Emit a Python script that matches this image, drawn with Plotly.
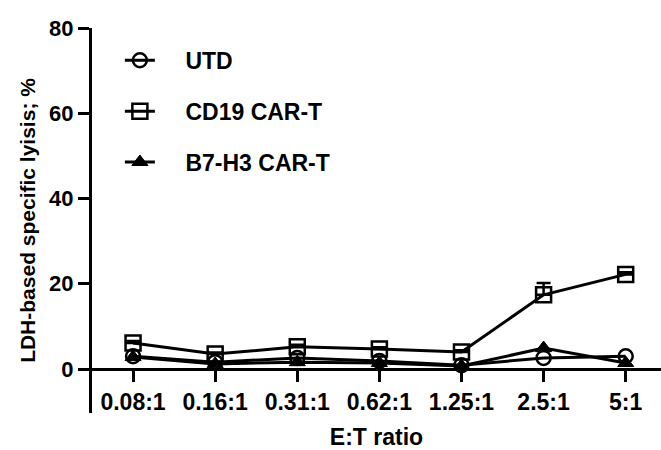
import plotly.graph_objects as go

categories = ["0.08:1", "0.16:1", "0.31:1", "0.62:1", "1.25:1", "2.5:1", "5:1"]
utd = [3.0, 1.6, 2.6, 1.9, 0.9, 2.6, 3.0]
cd19 = [6.1, 3.5, 5.2, 4.7, 4.0, 17.4, 22.2]
cd19_err = [0.5, 0.4, 0.5, 0.4, 0.4, 2.8, 0.5]
b7h3 = [2.8, 1.2, 1.6, 1.4, 0.7, 4.9, 1.4]
y_ticks = [0, 20, 40, 60, 80]

FONT = "Liberation Sans, Arial, sans-serif"
pad = "\u00a0" * 4

fig = go.Figure()
common = dict(mode="lines+markers", line=dict(color="black", width=3))
fig.add_trace(go.Scatter(x=categories, y=utd, name=pad + "UTD", legendgroup="a",
                         marker=dict(symbol="circle-open", size=14, color="black",
                                     line=dict(width=2.5, color="black")), **common))
fig.add_trace(go.Scatter(x=categories, y=cd19, name=pad + "CD19 CAR-T", legendgroup="b",
                         error_y=dict(type="data", array=cd19_err, arrayminus=[0]*len(cd19_err),
                                      color="black", thickness=2.5, width=7),
                         marker=dict(symbol="square-open", size=15, color="black",
                                     line=dict(width=2.5, color="black")), **common))
fig.add_trace(go.Scatter(x=categories, y=b7h3, name=pad + "B7-H3 CAR-T", legendgroup="c",
                         marker=dict(symbol="triangle-up", size=14, color="black",
                                     line=dict(width=1, color="black")), **common))

H, T, B = 450, 28, 37
ymin = -10.32
ymax = 80
pos0 = (0 - ymin) / (ymax - ymin)

fig.update_layout(
    width=661, height=450,
    margin=dict(l=92, r=0, t=T, b=B, autoexpand=False),
    paper_bgcolor="white", plot_bgcolor="white",
    font=dict(family=FONT, size=22, color="black", weight="bold"),
    showlegend=True,
    legend=dict(x=0.049, y=0.972, xanchor="left", yanchor="top",
                font=dict(family=FONT, size=23, color="black", weight="bold"),
                tracegroupgap=18, bgcolor="rgba(0,0,0,0)"),
    xaxis=dict(
        type="category", range=[-0.5, 6.43],
        anchor="free", position=pos0, automargin=False,
        showline=True, linecolor="black", linewidth=3,
        ticks="outside", ticklen=11, tickwidth=3, tickcolor="black",
        showgrid=False, zeroline=False,
        tickfont=dict(family=FONT, size=23, color="black", weight="bold"),
        title=dict(text="E:T ratio", standoff=21,
                   font=dict(family=FONT, size=23, color="black", weight="bold")),
    ),
    yaxis=dict(
        range=[ymin, ymax], tickvals=y_ticks, automargin=False,
        showline=True, linecolor="black", linewidth=3,
        ticks="outside", ticklen=11, tickwidth=3, tickcolor="black",
        showgrid=False, zeroline=False,
        tickfont=dict(family=FONT, size=22, color="black", weight="bold"),
        title=dict(text="LDH-based specific lyisis; %", standoff=8,
                   font=dict(family=FONT, size=21, color="black", weight="bold")),
    ),
)

fig.write_html("out.html", config={"displayModeBar": False},
               post_script="document.body.style.margin='0';document.body.style.padding='0';")
